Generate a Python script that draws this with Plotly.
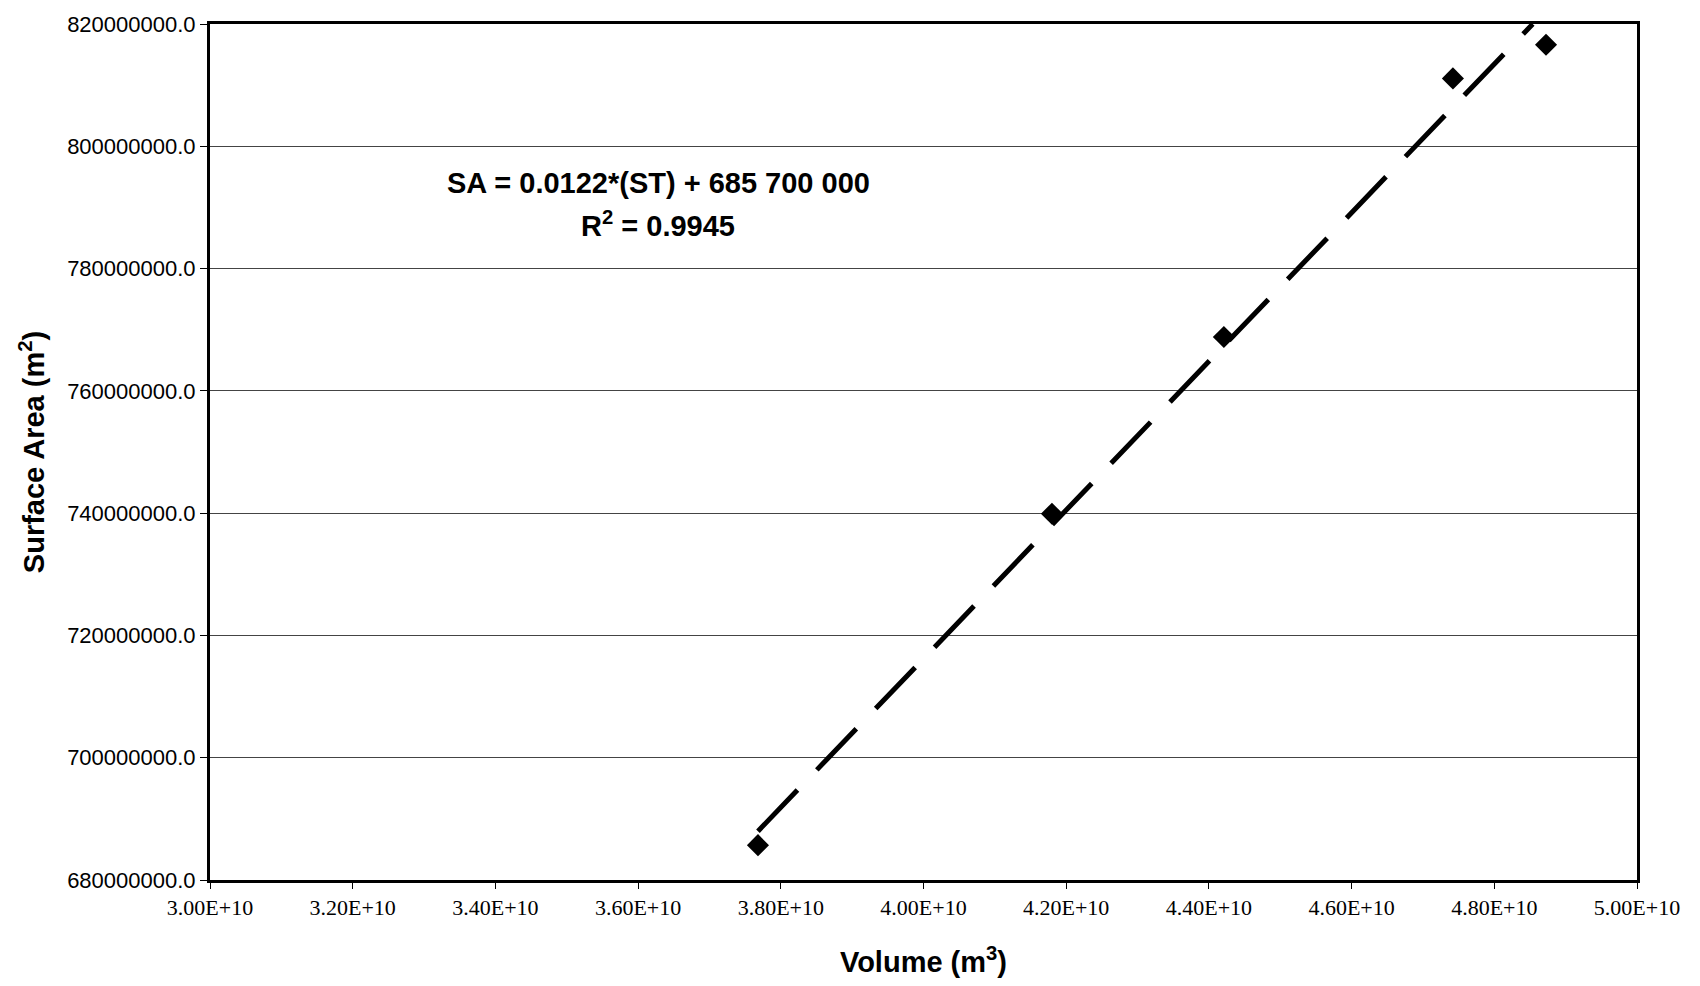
import numpy as np
import plotly.graph_objects as go

# Data
volume = [3.768e10, 4.180e10, 4.421e10, 4.742e10, 4.8725e10]
surface_area = [685.7e6, 739.9e6, 768.8e6, 811.1e6, 816.6e6]
x_ticks = [3.0e10, 3.2e10, 3.4e10, 3.6e10, 3.8e10, 4.0e10, 4.2e10, 4.4e10, 4.6e10, 4.8e10, 5.0e10]
x_tick_labels = ["3.00E+10", "3.20E+10", "3.40E+10", "3.60E+10", "3.80E+10", "4.00E+10",
                 "4.20E+10", "4.40E+10", "4.60E+10", "4.80E+10", "5.00E+10"]
y_ticks = [680e6, 700e6, 720e6, 740e6, 760e6, 780e6, 800e6, 820e6]
y_tick_labels = ["680000000.0", "700000000.0", "720000000.0", "740000000.0",
                 "760000000.0", "780000000.0", "800000000.0", "820000000.0"]
equation_text = "<b>SA = 0.0122*(ST) + 685 700 000</b>"
r2_text = "<b>R<sup>2</sup> = 0.9945</b>"

# Linear trend line from the data
m, b = np.polyfit(volume, surface_area, 1)
x_end = (y_ticks[-1] - b) / m
trend_x = [volume[0], x_end]
trend_y = [m * v + b for v in trend_x]

fig = go.Figure()
fig.add_trace(go.Scatter(
    x=trend_x, y=trend_y, mode="lines",
    line=dict(color="black", width=5, dash="57px,28px"),
    showlegend=False, hoverinfo="skip"))
fig.add_trace(go.Scatter(
    x=volume, y=surface_area, mode="markers",
    marker=dict(symbol="diamond", size=17, color="black"),
    showlegend=False))

fig.add_annotation(x=0.314, y=0.814, xref="paper", yref="paper",
                   text=equation_text, showarrow=False,
                   font=dict(family="Liberation Sans, Arial", size=29, color="black"),
                   xanchor="center", yanchor="middle")
fig.add_annotation(x=0.314, y=0.766, xref="paper", yref="paper",
                   text=r2_text, showarrow=False,
                   font=dict(family="Liberation Sans, Arial", size=29, color="black"),
                   xanchor="center", yanchor="middle")

fig.update_layout(
    width=1700, height=986,
    margin=dict(l=210, r=63, t=19, b=105),
    plot_bgcolor="white", paper_bgcolor="white",
    font=dict(family="Liberation Sans, Arial", color="black"),
    xaxis=dict(
        range=[3.0e10, 5.0e10], tickvals=x_ticks, ticktext=x_tick_labels,
        tickfont=dict(family="Liberation Serif, Times New Roman", size=22, color="black"),
        showgrid=False, zeroline=False,
        showline=True, linecolor="black", linewidth=3, mirror=True,
        ticks="outside", ticklen=6, tickwidth=1, tickcolor="black",
        title=dict(text="<b>Volume (m<sup>3</sup>)</b>", standoff=33,
                   font=dict(family="Liberation Sans, Arial", size=29, color="black")),
    ),
    yaxis=dict(
        range=[680e6, 820e6], tickvals=y_ticks, ticktext=y_tick_labels,
        tickfont=dict(family="Liberation Sans, Arial", size=22, color="black"),
        showgrid=True, gridcolor="#444444", gridwidth=1, zeroline=False,
        showline=True, linecolor="black", linewidth=3, mirror=True,
        ticks="outside", ticklen=7, tickwidth=1, tickcolor="black",
        title=dict(text="<b>Surface Area (m<sup>2</sup>)</b>", standoff=14,
                   font=dict(family="Liberation Sans, Arial", size=29, color="black")),
    ),
)

fig.write_html("out.html")
